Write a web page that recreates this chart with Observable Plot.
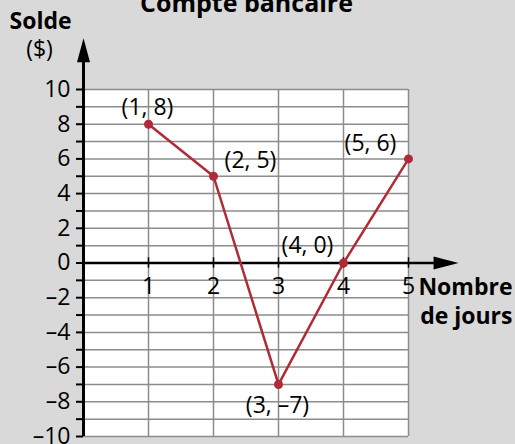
<!DOCTYPE html>
<html>
<head>
<meta charset="utf-8">
<script src="https://cdn.jsdelivr.net/npm/d3@7"></script>
<script src="https://cdn.jsdelivr.net/npm/@observablehq/plot@0.6"></script>
<style>
  html, body { margin: 0; padding: 0; background: #d9d9d9; }
  #chart { width: 515px; height: 444px; overflow: hidden; }
</style>
</head>
<body>
<div id="chart"></div>
<script>
// Data
const days = [1, 2, 3, 4, 5];
const balance = [8, 5, -7, 0, 6];
const xTicks = [1, 2, 3, 4, 5];
const yTicks = d3.range(-10, 11);
const yTickLabels = [-10, -8, -6, -4, -2, 0, 2, 4, 6, 8, 10];
const title = "Compte bancaire";
const yTitle = ["Solde", "($)"];
const xTitle = ["Nombre", "de jours"];

// Label offsets (style, px; baseline relative to point)
const labelDx = [-1, 37, -1, -36, -38];
const labelDy = [-9, -8, 29, -10, -8];

const fmt = v => (v < 0 ? "\u2013" + Math.abs(v) : String(v));
const points = days.map((d, i) => ({ x: d, y: balance[i], label: `(${d}, ${fmt(balance[i])})` }));

const red = "#ae2b37";
const font = "Open Sans";
const fs = 23;

// Filled, elongated arrowhead symbols with tip at origin
const arrowUp = { draw(ctx) { ctx.moveTo(0, 0); ctx.lineTo(6.5, 24); ctx.lineTo(-6.5, 24); ctx.closePath(); } };
const arrowRight = { draw(ctx) { ctx.moveTo(0, 0); ctx.lineTo(-25, -6.5); ctx.lineTo(-25, 6.5); ctx.closePath(); } };

const chart = Plot.plot({
  width: 515,
  height: 444,
  marginLeft: 83,
  marginRight: 107,
  marginTop: 89,
  marginBottom: 8,
  x: { domain: [0, 5], axis: null },
  y: { domain: [-10, 10], axis: null },
  style: { background: "transparent", fontFamily: font, overflow: "visible" },
  marks: [
    Plot.frame({ fill: "white", stroke: null }),
    Plot.gridY(yTicks, { stroke: "#8c8c8c", strokeOpacity: 1, strokeWidth: 1.5 }),
    Plot.gridX(xTicks, { stroke: "#8c8c8c", strokeOpacity: 1, strokeWidth: 1.5 }),
    // y axis ticks and labels
    Plot.axisY({
      ticks: yTicks, tickSize: 7, tickPadding: 6, strokeWidth: 2,
      tickFormat: d => (yTickLabels.includes(d) ? fmt(d) : ""),
      fontSize: fs, fill: "black", label: null
    }),
    // y axis line with arrow
    Plot.ruleX([0], { y1: -10, y2: 11.8, stroke: "black", strokeWidth: 3, clip: false }),
    Plot.dot([{ x: 0, y: 12.95 }], { x: "x", y: "y", symbol: arrowUp, fill: "black", stroke: null, r: 5 }),
    // x axis line with arrow
    Plot.ruleY([0], { x1: 0, x2: 5.4, stroke: "black", strokeWidth: 2.5, clip: false }),
    Plot.dot([{ x: 5.77, y: 0 }], { x: "x", y: "y", symbol: arrowRight, fill: "black", stroke: null, r: 5 }),
    Plot.ruleX(xTicks, { y1: -0.3, y2: 0.3, stroke: "black", strokeWidth: 1.5 }),
    Plot.text(xTicks, { x: d => d, y: 0, dy: 30.5, lineAnchor: "bottom", text: d => String(d), fontSize: fs, fill: "black" }),
    // data
    Plot.line(points, { x: "x", y: "y", stroke: red, strokeWidth: 2.5 }),
    Plot.dot(points, { x: "x", y: "y", r: 4.5, fill: red, stroke: null }),
    ...points.map((p, i) => Plot.text([p], {
      x: "x", y: "y", text: "label", dx: labelDx[i], dy: labelDy[i],
      lineAnchor: "bottom", fontSize: fs, fill: "black"
    })),
    // titles (positions relative to the frame's top-left corner at 83, 89)
    Plot.text([title], { frameAnchor: "top-left", dx: 163, dy: -78, textAnchor: "middle", lineAnchor: "bottom", fontSize: 25, fontWeight: "bold", fill: "black" }),
    Plot.text([yTitle[0]], { frameAnchor: "top-left", dx: -43, dy: -61, textAnchor: "middle", lineAnchor: "bottom", fontSize: fs, fontWeight: "bold", fill: "black" }),
    Plot.text([yTitle[1]], { frameAnchor: "top-left", dx: -44, dy: -33, textAnchor: "middle", lineAnchor: "bottom", fontSize: fs, fill: "black" }),
    Plot.text([xTitle[0]], { frameAnchor: "top-left", dx: 429, dy: 205, textAnchor: "end", lineAnchor: "bottom", fontSize: fs, fontWeight: "bold", fill: "black" }),
    Plot.text([xTitle[1]], { frameAnchor: "top-left", dx: 429, dy: 234, textAnchor: "end", lineAnchor: "bottom", fontSize: fs, fontWeight: "bold", fill: "black" })
  ]
});
document.getElementById("chart").appendChild(chart);
</script>
</body>
</html>
